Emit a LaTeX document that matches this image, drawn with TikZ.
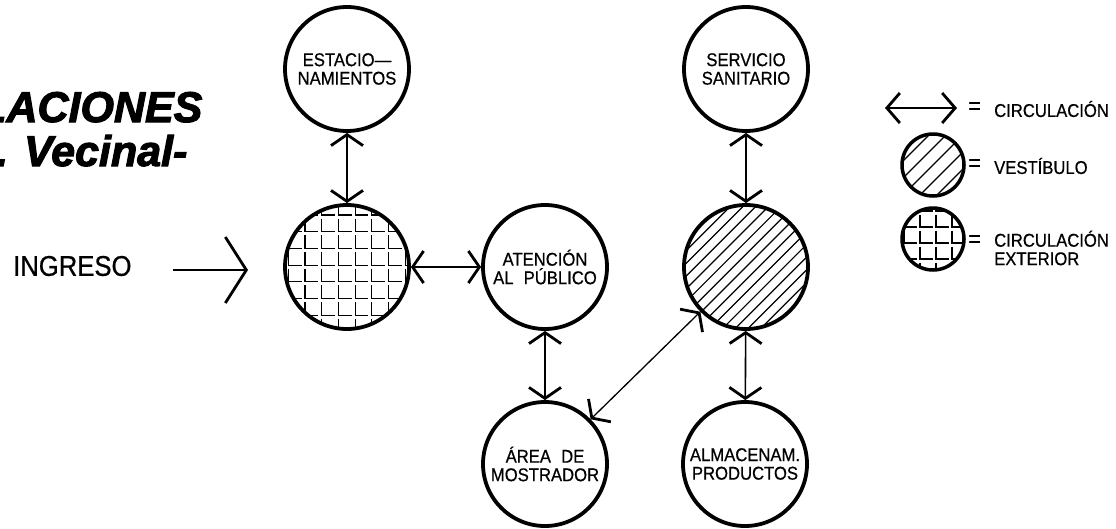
\documentclass[tikz,border=0pt]{standalone}
\usepackage{fontspec}
\setmainfont{Liberation Sans}
\newfontfamily\cadfont[FakeStretch=0.9,FakeBold=0.6]{Liberation Sans}
\newfontfamily\titlefont[BoldItalicFeatures={FakeBold=2.5}]{Liberation Sans}
\usetikzlibrary{arrows.meta}
\begin{document}
\begin{tikzpicture}[x=1pt,y=-1pt,
  circ/.style={circle, draw, line width=3.8pt, minimum size=124pt, inner sep=0pt,
     align=center, font=\cadfont\fontsize{18.5}{18.5}\selectfont},
  lcirc/.style={circle, draw, line width=3.5pt, minimum size=62pt, inner sep=0pt},
  conn/.style={line width=1.6pt,
     {Straight Barb[length=11pt,width=32pt,line width=2.8pt]}-{Straight Barb[length=11pt,width=32pt,line width=2.8pt]}},
  hatch/.style={line width=1.2pt},
  gridl/.style={line width=1.2pt},
  lbl/.style={anchor=west, inner sep=0pt, font=\cadfont\fontsize{18.5}{19}\selectfont, align=left},
  eqs/.style={anchor=west, inner sep=0pt, font=\cadfont\fontsize{24}{24}\selectfont},
  ttl/.style={anchor=base west, inner sep=0pt, font=\titlefont\bfseries\itshape\fontsize{43}{48}\selectfont}
]
\useasboundingbox (0,0) rectangle (1116,528);

% title (cropped at the left edge, as in the reference)
\node[ttl] (t1) at (-20,122) {LACIONES};
\node[ttl] (t2) at (-4,166) {. Vecinal-};

% hatching of vestibule circle
\begin{scope}
  \clip (746,267) circle[radius=62pt];
  \foreach \k in {-11,...,11}
    \draw[hatch] ({746+\k*12.7-70},337) -- ({746+\k*12.7+70},197);
\end{scope}
% grid of exterior circulation circle
\begin{scope}
  \clip (347,267) circle[radius=62pt];
  \foreach \i in {-2,...,6}{
    \foreach \j in {-1,...,7}{
      \draw[gridl] ({305+16.7*\i},{215+16.7*\j-13.2}) -- ({305+16.7*\i},{215+16.7*\j}) -- ({305+16.7*\i+13.2},{215+16.7*\j});
    }}
\end{scope}

% circles
\node[circ] (est) at (347,69) {ESTACIO—\\NAMIENTOS};
\node[circ] (ext) at (347,267) {};
\node[circ] (ate) at (545,267) {ATENCIÓN\\AL\hspace{0.3em} PÚBLICO};
\node[circ] (ser) at (746,69) {SERVICIO\\SANITARIO};
\node[circ] (ves) at (746,267) {};
\node[circ] (are) at (545,464) {ÁREA\hspace{0.3em} DE\\MOSTRADOR};
\node[circ] (alm) at (745,464) {ALMACENAM.\\PRODUCTOS};

% connectors
\draw[conn] (est) -- (ext);
\draw[conn] (ext) -- (ate);
\draw[conn] (ate) -- (are);
\draw[conn] (ser) -- (ves);
\draw[conn] (ves) -- (alm);
\draw[conn, line width=1.3pt] (ves) -- (are);

% ingreso
\node[anchor=west, inner sep=0pt, font=\cadfont\fontsize{28.5}{30}\selectfont] (ing) at (13,266) {INGRESO};
\coordinate (ingS) at (173,270);
\coordinate (ingE) at (248,270);
\draw[line width=1.5pt, -{Straight Barb[length=21pt,width=66pt,line width=2.8pt]}] (ingS) -- (ingE);

% legend
\coordinate (la) at (885,108);
\coordinate (lb) at (957,108);
\draw[line width=1.4pt,
  {Straight Barb[length=13pt,width=30pt,line width=2.8pt]}-{Straight Barb[length=13pt,width=30pt,line width=2.8pt]}] (la) -- (lb);
\node[eqs] (eq1) at (968,108) {=};
\node[lbl] (tx1) at (994,109) {CIRCULACIÓN};

\begin{scope}
  \clip (933,165) circle[radius=31pt];
  \foreach \k in {-4,...,4}
    \draw[hatch] ({933+\k*17-40},205) -- ({933+\k*17+40},125);
\end{scope}
\node[lcirc] (lv) at (933,165) {};
\node[eqs] (eq2) at (968,165) {=};
\node[lbl] (tx2) at (994,166) {VESTÍBULO};

\begin{scope}
  \clip (933,239) circle[radius=31pt];
  \foreach \i in {-1,...,3}{
    \foreach \j in {-2,...,3}{
      \draw[gridl] ({920+16*\i},{227+16*\j-12.5}) -- ({920+16*\i},{227+16*\j}) -- ({920+16*\i+12.5},{227+16*\j});
    }}
\end{scope}
\node[lcirc] (lc) at (933,239) {};
\node[eqs] (eq3) at (968,241) {=};
\node[lbl] (tx3) at (994,248) {CIRCULACIÓN\\[-0.5pt]EXTERIOR};
\end{tikzpicture}
\end{document}
